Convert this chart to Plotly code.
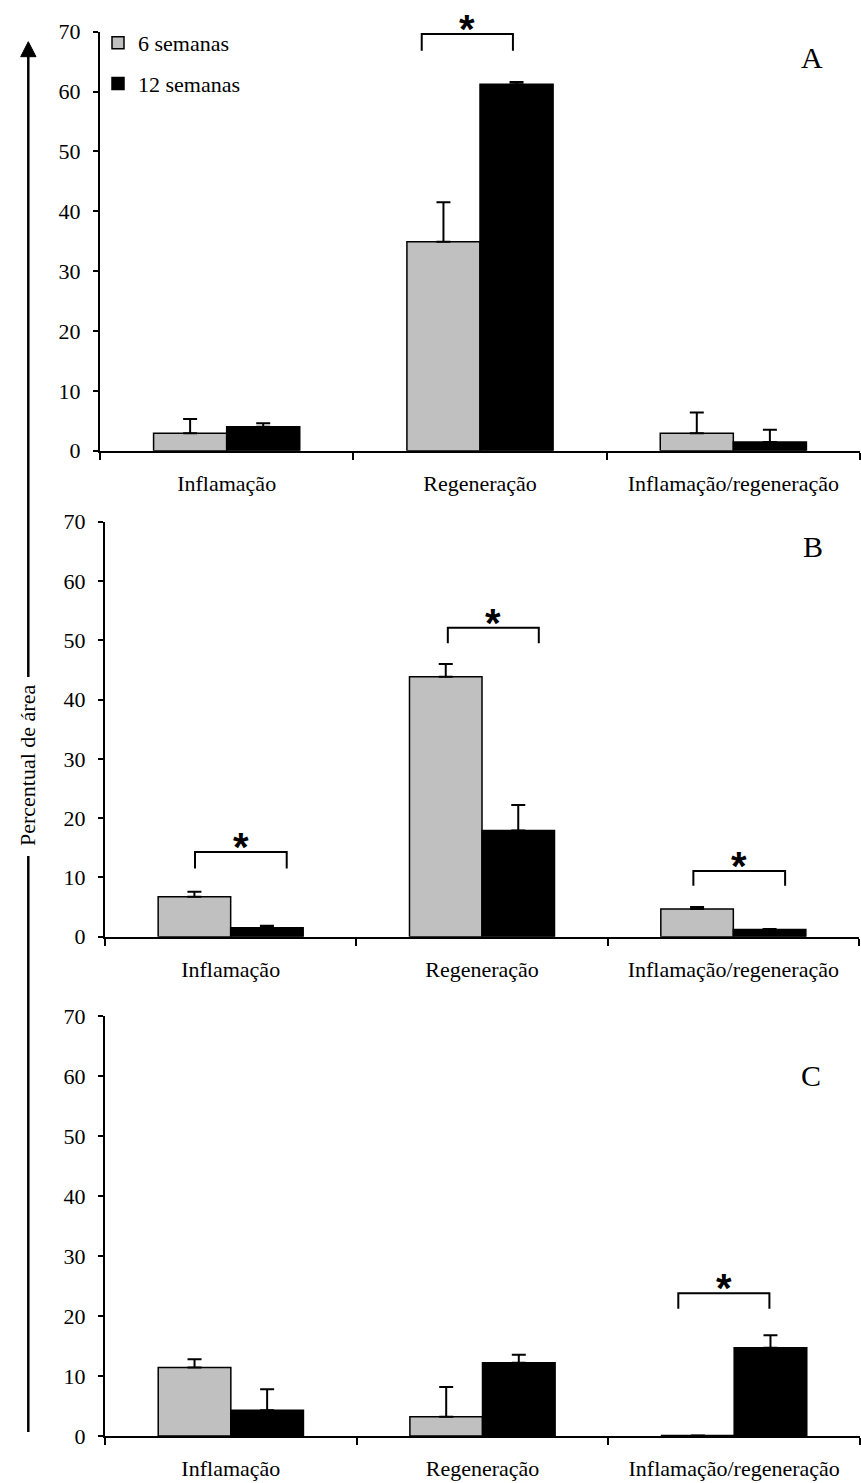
import plotly.graph_objects as go

# ---------------- data ----------------
categories = ["Inflamação", "Regeneração", "Inflamação/regeneração"]
series_names = ["6 semanas", "12 semanas"]
y_ticks = [0, 10, 20, 30, 40, 50, 60, 70]
panel_labels = ["A", "B", "C"]

a_6 = [2.9, 34.9, 2.9]
a_6_err = [2.4, 6.6, 3.5]
a_12 = [4.0, 61.2, 1.45]
a_12_err = [0.6, 0.4, 2.05]

b_6 = [6.75, 43.85, 4.67]
b_6_err = [0.85, 2.15, 0.35]
b_12 = [1.5, 17.9, 1.2]
b_12_err = [0.35, 4.3, 0.1]

c_6 = [11.4, 3.2, 0.1]
c_6_err = [1.4, 4.95, 0.0]
c_12 = [4.3, 12.2, 14.7]
c_12_err = [3.5, 1.35, 2.1]

# significance brackets (panel index, x start/end in category units, top, leg bottom)
sig_panel = [0, 1, 1, 1, 2]
sig_x0 = [0.77, -0.142, 0.864, 1.841, 1.778]
sig_x1 = [1.13, 0.223, 1.226, 2.206, 2.140]
sig_top = [69.6, 14.3, 52.1, 11.1, 23.8]
sig_bottom = [66.8, 11.5, 49.5, 8.6, 21.2]

# ---------------- layout helpers ----------------
W, H = 861, 1483
def fx(px):
    return px / W
def fy(px):
    return 1 - px / H

panel_y_px = [(31.7, 450.7), (521.7, 936.7), (1016, 1436)]
panel_x_px = [(100, 860), (105, 859), (105, 860)]
letter_pos = [(812, 57), (813, 547), (811, 1075)]

FONT = "Liberation Serif"
GRAY = "#c0c0c0"

values6 = [a_6, b_6, c_6]
errs6 = [a_6_err, b_6_err, c_6_err]
values12 = [a_12, b_12, c_12]
errs12 = [a_12_err, b_12_err, c_12_err]

fig = go.Figure()

for i in range(3):
    xa = "x" if i == 0 else f"x{i+1}"
    ya = "y" if i == 0 else f"y{i+1}"
    fig.add_trace(go.Bar(
        x=categories, y=values6[i], name=series_names[0],
        xaxis=xa, yaxis=ya, legendgroup="g6", showlegend=(i == 0),
        marker=dict(color=GRAY, line=dict(color="black", width=1.5)),
        error_y=dict(type="data", array=errs6[i], arrayminus=[0] * 3,
                     symmetric=False, color="black", thickness=2, width=7),
    ))
    fig.add_trace(go.Bar(
        x=categories, y=values12[i], name=series_names[1],
        xaxis=xa, yaxis=ya, legendgroup="g12", showlegend=(i == 0),
        marker=dict(color="black", line=dict(color="black", width=1.5)),
        error_y=dict(type="data", array=errs12[i], arrayminus=[0] * 3,
                     symmetric=False, color="black", thickness=2, width=7),
    ))

layout_axes = {}
for i in range(3):
    xk = "xaxis" if i == 0 else f"xaxis{i+1}"
    yk = "yaxis" if i == 0 else f"yaxis{i+1}"
    yref_name = "y" if i == 0 else f"y{i+1}"
    xref_name = "x" if i == 0 else f"x{i+1}"
    x0p, x1p = panel_x_px[i]
    t, b = panel_y_px[i]
    layout_axes[xk] = dict(
        domain=[fx(x0p), fx(x1p)], anchor=yref_name, type="category",
        categoryorder="array", categoryarray=categories,
        range=[-0.5, 2.5], automargin=False,
        showline=True, linecolor="black", linewidth=2,
        ticks="outside", tickson="boundaries", ticklen=7, tickwidth=2,
        tickcolor="black", showgrid=False, zeroline=False,
        tickfont=dict(family=FONT, size=22, color="black"),
        ticklabelstandoff=12,
    )
    layout_axes[yk] = dict(
        domain=[fy(b), fy(t)], anchor=xref_name, range=[0, 70],
        automargin=False,
        tickvals=y_ticks, showline=True, linecolor="black", linewidth=2,
        ticks="outside", ticklen=5, tickwidth=2, tickcolor="black",
        showgrid=False, zeroline=False,
        tickfont=dict(family=FONT, size=22, color="black"),
        ticklabelstandoff=8,
    )

shapes = []
annotations = []

# significance brackets
for k in range(len(sig_panel)):
    i = sig_panel[k]
    xr = "x" if i == 0 else f"x{i+1}"
    yr = "y" if i == 0 else f"y{i+1}"
    path = (f"M {sig_x0[k]},{sig_bottom[k]} L {sig_x0[k]},{sig_top[k]} "
            f"L {sig_x1[k]},{sig_top[k]} L {sig_x1[k]},{sig_bottom[k]}")
    shapes.append(dict(type="path", xref=xr, yref=yr, path=path,
                       line=dict(color="black", width=2)))
    annotations.append(dict(
        x=(sig_x0[k] + sig_x1[k]) / 2, y=sig_top[k], xref=xr, yref=yr,
        text="<b>*</b>", showarrow=False, yanchor="middle", xanchor="center",
        yshift=5, font=dict(family="Liberation Sans", size=40, color="black"),
    ))

# panel letters
for i in range(3):
    px, py = letter_pos[i]
    annotations.append(dict(
        x=fx(px), y=fy(py), xref="paper", yref="paper", text=panel_labels[i],
        showarrow=False, xanchor="center", yanchor="middle",
        font=dict(family=FONT, size=30, color="black"),
    ))

# left axis title with arrow
annotations.append(dict(
    x=fx(27), y=fy(766), xref="paper", yref="paper", text="Percentual de área",
    textangle=-90, showarrow=False, xanchor="center", yanchor="middle",
    font=dict(family=FONT, size=22, color="black"),
))
ax_x = 28.3
shapes.append(dict(type="line", xref="paper", yref="paper",
                   x0=fx(ax_x), x1=fx(ax_x), y0=fy(55), y1=fy(677),
                   line=dict(color="black", width=2.5)))
shapes.append(dict(type="line", xref="paper", yref="paper",
                   x0=fx(ax_x), x1=fx(ax_x), y0=fy(856), y1=fy(1432),
                   line=dict(color="black", width=2.5)))
shapes.append(dict(type="path", xref="paper", yref="paper",
                   path=(f"M {fx(20.7)},{fy(56.7)} L {fx(36)},{fy(56.7)} "
                         f"L {fx(28.3)},{fy(41.7)} Z"),
                   fillcolor="black", line=dict(color="black", width=1)))

fig.update_layout(
    width=W, height=H,
    margin=dict(l=0, r=0, t=0, b=0, autoexpand=False),
    paper_bgcolor="white", plot_bgcolor="white",
    barmode="group", bargap=0.423, bargroupgap=0,
    showlegend=True,
    legend=dict(x=fx(98), y=fy(22), xanchor="left", yanchor="top",
                traceorder="grouped", tracegroupgap=9,
                bgcolor="rgba(0,0,0,0)",
                font=dict(family=FONT, size=22, color="black")),
    shapes=shapes, annotations=annotations,
    **layout_axes,
)

fig.write_html("out.html")
